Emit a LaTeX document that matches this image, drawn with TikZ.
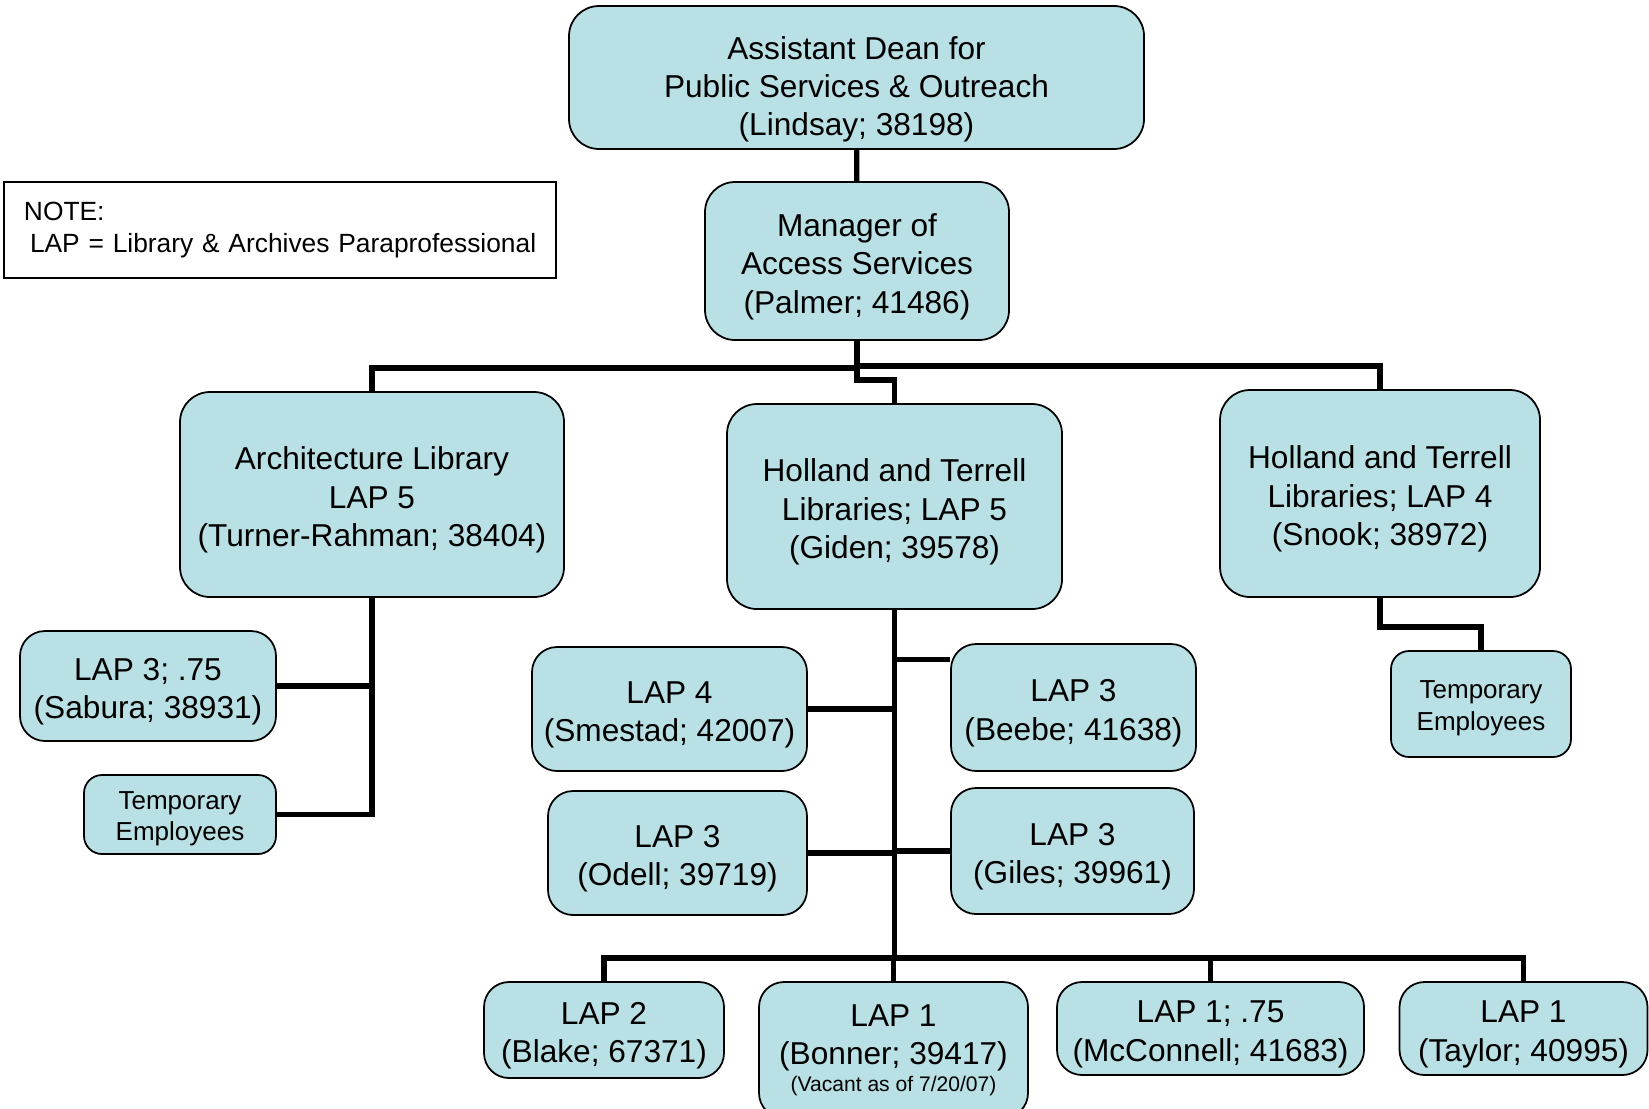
\documentclass[tikz,border=0pt]{standalone}
\usepackage{fontspec}
\setmainfont{Liberation Sans}
\usepackage{tikz}
\definecolor{boxblue}{RGB}{185,224,228}
\tikzset{basic/.style={draw,fill=boxblue,line width=0.5pt,align=center,
                       rounded corners=0.25cm,inner sep=0pt,
                       text depth=0pt,text height=18.5pt,
                       font=\fontsize{9}{10.9}\selectfont}}
\tikzset{unit/.style={basic,rounded corners=0.3cm,text height=29.6pt}}
\tikzset{small/.style={basic,rounded corners=0.18cm,text height=15pt,
                       font=\fontsize{7.4}{9}\selectfont}}
\tikzset{notebox/.style={draw,line width=0.5pt,align=left,inner xsep=0.2cm,
                         font=\fontsize{7.5}{9}\selectfont}}
\tikzset{link/.style={line width=1.5pt}}
\usetikzlibrary{calc}

\begin{document}
\begin{tikzpicture}
    \useasboundingbox (0,0) rectangle (16.49,-11.08);
    % Top of the chart
    \node[unit,text height=33.2pt,minimum width=5.75cm,minimum height=1.43cm] (dean) at (8.565,-0.775)
        {Assistant Dean for\\Public Services \& Outreach\\(Lindsay; 38198)};
    \node[unit,minimum width=3.04cm,minimum height=1.58cm] (manager) at (8.57,-2.61)
        {Manager of\\Access Services\\(Palmer; 41486)};
    \node[notebox,minimum width=5.52cm,minimum height=0.96cm,text width=5.12cm] (note) at (2.80,-2.30)
        {NOTE:\\\mbox{\hspace{0.6mm}LAP = Library \& Archives Paraprofessional}};
    % Three units
    \node[unit,minimum width=3.84cm,minimum height=2.05cm] (arch) at (3.72,-4.945)
        {Architecture Library\\LAP 5\\(Turner-Rahman; 38404)};
    \node[unit,minimum width=3.35cm,minimum height=2.05cm] (hollandA) at (8.945,-5.065)
        {Holland and Terrell\\Libraries; LAP 5\\(Giden; 39578)};
    \node[unit,minimum width=3.20cm,minimum height=2.07cm] (hollandB) at (13.80,-4.935)
        {Holland and Terrell\\Libraries; LAP 4\\(Snook; 38972)};
    % Architecture staff
    \node[basic,minimum width=2.56cm,minimum height=1.10cm] (sabura) at (1.48,-6.86)
        {LAP 3; .75\\(Sabura; 38931)};
    \node[small,minimum width=1.92cm,minimum height=0.79cm] (temparch) at (1.80,-8.145)
        {Temporary\\Employees};
    % Holland and Terrell staff
    \node[basic,minimum width=2.75cm,minimum height=1.24cm] (smestad) at (6.695,-7.09)
        {LAP 4\\(Smestad; 42007)};
    \node[basic,minimum width=2.45cm,minimum height=1.27cm] (beebe) at (10.735,-7.075)
        {LAP 3\\(Beebe; 41638)};
    \node[basic,minimum width=2.59cm,minimum height=1.24cm] (odell) at (6.775,-8.53)
        {LAP 3\\(Odell; 39719)};
    \node[basic,minimum width=2.43cm,minimum height=1.26cm] (giles) at (10.725,-8.51)
        {LAP 3\\(Giles; 39961)};
    \node[small,minimum width=1.80cm,minimum height=1.06cm] (tempholl) at (14.81,-7.04)
        {Temporary\\Employees};
    % Bottom row
    \node[basic,minimum width=2.40cm,minimum height=0.96cm] (blake) at (6.04,-10.30)
        {LAP 2\\(Blake; 67371)};
    \node[basic,text height=,text depth=,minimum width=2.69cm,minimum height=1.36cm] (bonner) at (8.935,-10.50)
        {LAP 1\\(Bonner; 39417)\\[-3.3pt]\fontsize{6}{8.6}\selectfont(Vacant as of 7/20/07)};
    \node[basic,minimum width=3.07cm,minimum height=0.93cm] (mcconnell) at (12.105,-10.285)
        {LAP 1; .75\\(McConnell; 41683)};
    \node[basic,minimum width=2.48cm,minimum height=0.93cm] (taylor) at (15.235,-10.285)
        {LAP 1\\(Taylor; 40995)};
    % Connectors from the top
    \draw[link] (dean) -- (manager);
    \draw[link] (manager.south) -- ++(0,-0.39) -| (hollandA.north);
    \draw[link] ([yshift=-2.7mm]manager.south) -| (arch.north);
    \draw[link] ([yshift=-2.5mm]manager.south) -| (hollandB.north);
    % Architecture branch
    \draw[link] (arch.south) |- (temparch.east);
    \draw[link] (sabura.east) -- (sabura.east -| arch.south);
    % Holland and Terrell branches
    \coordinate (bus) at ($(hollandA.south)+(0,-3.48)$);
    \draw[link] (hollandA.south) -- (bus);
    \draw[link] ([yshift=4.8mm]beebe.west) -- ([yshift=4.8mm]beebe.west -| hollandA.south);
    \foreach \n in {smestad,odell,giles}{%
        \draw[link] (\n) -- (\n -| hollandA.south);
      }
    \foreach \n in {blake,bonner,mcconnell,taylor}{%
        \draw[link] (bus) -| (\n.north);
      }
    \draw[link] (hollandB.south) -- ++(0,-0.29) -| (tempholl.north);
\end{tikzpicture}
\end{document}
